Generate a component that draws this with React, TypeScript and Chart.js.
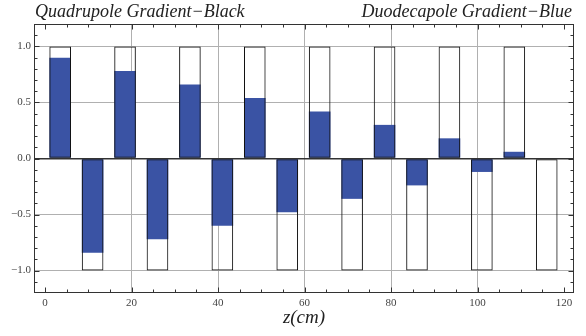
import React, { useEffect, useRef } from "react";
import { Chart, registerables } from "chart.js";

Chart.register(...registerables);

// z position (cm) of each magnet segment centre
const barCenters = [3.5, 11, 18.5, 26, 33.5, 41, 48.5, 56, 63.5, 71, 78.5, 86, 93.5, 101, 108.5, 116];
// normalised quadrupole gradient (black outline)
const quadrupoleGradient = [1, -1, 1, -1, 1, -1, 1, -1, 1, -1, 1, -1, 1, -1, 1, -1];
// normalised duodecapole gradient (blue)
const duodecapoleGradient = [0.9, -0.84, 0.78, -0.72, 0.66, -0.6, 0.54, -0.48, 0.42, -0.36, 0.3, -0.24, 0.18, -0.12, 0.06, 0];

const xTickValues = [0, 20, 40, 60, 80, 100, 120];
const yTickValues = [-1, -0.5, 0, 0.5, 1];
const leftTitle = "Quadrupole Gradient\u2212Black";
const rightTitle = "Duodecapole Gradient\u2212Blue";
const xAxisTitle = "z(cm)";

export default function App() {
  const ref = useRef<HTMLCanvasElement>(null);

  useEffect(() => {
    document.body.style.margin = "0";
    const canvas = ref.current;
    if (!canvas) return;

    const framePlugin = {
      id: "frame",
      afterDraw(chart: any) {
        const { ctx, chartArea: a, scales } = chart;
        const xs = scales.x;
        const ys = scales.y;
        ctx.save();
        ctx.strokeStyle = "#333";
        ctx.lineWidth = 1;
        const L = Math.round(a.left) + 0.5;
        const R = Math.round(a.right) - 0.5;
        const T = Math.round(a.top) + 0.5;
        const B = Math.round(a.bottom) - 0.5;
        ctx.strokeRect(L, T, R - L, B - T);
        ctx.beginPath();
        for (let v = 0; v <= 120; v += 5) {
          const len = v % 20 === 0 ? 5 : 3;
          const px = Math.round(xs.getPixelForValue(v)) + 0.5;
          ctx.moveTo(px, B);
          ctx.lineTo(px, B - len);
          ctx.moveTo(px, T);
          ctx.lineTo(px, T + len);
        }
        for (let i = -11; i <= 11; i++) {
          const len = i % 5 === 0 ? 5 : 3;
          const py = Math.round(ys.getPixelForValue(i / 10)) + 0.5;
          ctx.moveTo(L, py);
          ctx.lineTo(L + len, py);
          ctx.moveTo(R, py);
          ctx.lineTo(R - len, py);
        }
        ctx.stroke();

        ctx.fillStyle = "#222";
        ctx.font = 'italic 18px "Liberation Serif"';
        ctx.textBaseline = "alphabetic";
        ctx.textAlign = "left";
        ctx.fillText(leftTitle, a.left + 1, 17);
        ctx.textAlign = "right";
        ctx.fillText(rightTitle, a.right - 2, 17);
        ctx.textAlign = "center";
        ctx.font = 'italic 19px "Liberation Serif"';
        ctx.fillText(xAxisTitle, (a.left + a.right) / 2, 323);
        ctx.restore();
      },
    };

    const chart = new Chart(canvas, {
      type: "bar",
      data: {
        datasets: [
          {
            label: "Quadrupole",
            data: barCenters.map((x, i) => ({ x, y: quadrupoleGradient[i] })),
            backgroundColor: "rgba(0,0,0,0)",
            borderColor: "#111",
            borderWidth: 1,
            borderSkipped: false,
            order: 0,
            grouped: false,
            barPercentage: 1,
            categoryPercentage: 5 / 7.5,
          } as any,
          {
            label: "Duodecapole",
            data: barCenters.map((x, i) => ({ x, y: duodecapoleGradient[i] })),
            backgroundColor: "#3a53a4",
            borderWidth: 0,
            order: 1,
            grouped: false,
            barPercentage: 1,
            categoryPercentage: 5 / 7.5,
          } as any,
        ],
      },
      options: {
        animation: false,
        responsive: false,
        maintainAspectRatio: false,
        layout: { padding: { top: 24, right: 12, left: 0, bottom: 0 } },
        plugins: {
          legend: { display: false },
          tooltip: { enabled: false },
          title: { display: false },
        },
        scales: {
          x: {
            type: "linear",
            offset: false,
            min: -2.55,
            max: 122.3,
            afterBuildTicks: (s: any) => {
              s.ticks = xTickValues.map((value) => ({ value }));
            },
            afterFit: (s: any) => {
              s.height = 43;
            },
            border: { display: false },
            grid: {
              offset: false,
              drawTicks: false,
              lineWidth: 1,
              color: (c: any) =>
                c.tick && (c.tick.value === 0 || c.tick.value === 120) ? "rgba(0,0,0,0)" : "#b0b0b0",
            },
            ticks: {
              padding: 4,
              autoSkip: false,
              maxRotation: 0,
              color: "#444",
              font: { family: '"Liberation Serif"', size: 11 },
              callback: (v: any) => String(v),
            },
          },
          y: {
            type: "linear",
            min: -1.2,
            max: 1.2,
            afterBuildTicks: (s: any) => {
              s.ticks = yTickValues.map((value) => ({ value }));
            },
            afterFit: (s: any) => {
              s.width = 34;
            },
            border: { display: false },
            grid: {
              drawTicks: false,
              color: (c: any) => (c.tick && c.tick.value === 0 ? "#333" : "#b0b0b0"),
              lineWidth: (c: any) => (c.tick && c.tick.value === 0 ? 1.5 : 1),
            },
            ticks: {
              padding: 3,
              autoSkip: false,
              color: "#444",
              font: { family: '"Liberation Serif"', size: 11 },
              callback: (v: any) => (Number(v) < 0 ? "\u2212" : "") + Math.abs(Number(v)).toFixed(1),
            },
          },
        },
      } as any,
      plugins: [framePlugin],
    });

    return () => chart.destroy();
  }, []);

  return (
    <div style={{ width: 586, height: 336 }}>
      <canvas ref={ref} width={586} height={336} style={{ display: "block" }} />
    </div>
  );
}
